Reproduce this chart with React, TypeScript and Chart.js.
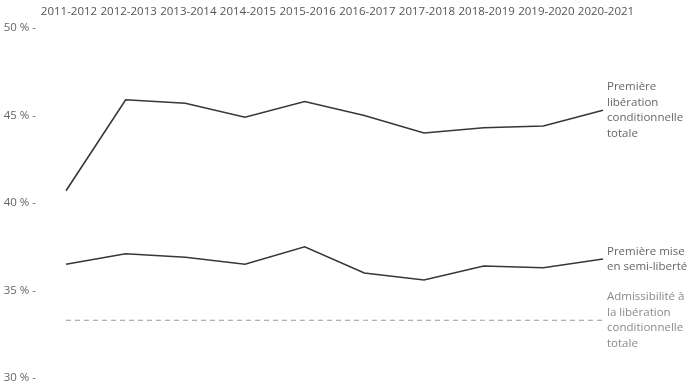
import React, { useEffect, useRef } from "react";
import { Chart, registerables } from "chart.js";

Chart.register(...registerables);

const categories = ["2011-2012", "2012-2013", "2013-2014", "2014-2015", "2015-2016", "2016-2017", "2017-2018", "2018-2019", "2019-2020", "2020-2021"];
const liberationTotale = [40.7, 45.9, 45.7, 44.9, 45.8, 45.0, 44.0, 44.3, 44.4, 45.3];
const semiLiberte = [36.5, 37.1, 36.9, 36.5, 37.5, 36.0, 35.6, 36.4, 36.3, 36.8];
const admissibilite = [33.3, 33.3, 33.3, 33.3, 33.3, 33.3, 33.3, 33.3, 33.3, 33.3];
const yTicks = [30, 35, 40, 45, 50];
const seriesLabels = [
  ["Première", "libération", "conditionnelle", "totale"],
  ["Première mise", "en semi-liberté"],
  ["Admissibilité à", "la libération", "conditionnelle", "totale"],
];

const FONT = "'Open Sans', sans-serif";

const endLabels = {
  id: "endLabels",
  afterDraw(chart: any) {
    const ctx = chart.ctx;
    ctx.save();
    ctx.font = `11.5px ${FONT}`;
    ctx.textAlign = "left";
    ctx.textBaseline = "middle";
    const lh = 15.5;
    chart.data.datasets.forEach((ds: any, i: number) => {
      const meta = chart.getDatasetMeta(i);
      const pt = meta.data[meta.data.length - 1];
      const lines = seriesLabels[i];
      ctx.fillStyle = i === 2 ? "#8a8a8a" : "#666";
      const startY = pt.y - ((lines.length - 1) * lh) / 2;
      lines.forEach((l: string, j: number) => ctx.fillText(l, pt.x + 4, startY + j * lh));
    });
    ctx.restore();
  },
};

export default function App() {
  const ref = useRef<HTMLCanvasElement>(null);
  useEffect(() => {
    document.body.style.margin = "0";
    const chart = new Chart(ref.current!, {
      type: "line",
      data: {
        labels: categories,
        datasets: [
          { data: liberationTotale, borderColor: "#33383d", borderWidth: 1.6, pointRadius: 0, tension: 0 },
          { data: semiLiberte, borderColor: "#33383d", borderWidth: 1.6, pointRadius: 0, tension: 0 },
          { data: admissibilite, borderColor: "#9a9a9a", borderWidth: 1, borderDash: [5, 4], pointRadius: 0, tension: 0 },
        ],
      },
      options: {
        animation: false,
        responsive: false,
        maintainAspectRatio: false,
        layout: { padding: { top: 0, right: 97, bottom: 6, left: 0 } },
        plugins: { legend: { display: false }, tooltip: { enabled: false } },
        scales: {
          x: {
            position: "top",
            offset: false,
            grid: { display: false, drawTicks: false },
            border: { display: false },
            ticks: { color: "#555", font: { family: FONT, size: 11.5 }, padding: 9, labelOffset: 3, maxRotation: 0, autoSkip: false },
            afterFit: (s: any) => { s.height = 28; },
          },
          y: {
            min: 30,
            max: 50,
            grid: { display: false, drawTicks: false },
            border: { display: false },
            afterBuildTicks: (s: any) => { s.ticks = yTicks.map((v) => ({ value: v })); },
            ticks: {
              color: "#666",
              font: { family: FONT, size: 11.5 },
              padding: 30,
              callback: (v: any) => `${v} % -`,
            },
            afterFit: (s: any) => { s.width = 66; s.paddingTop = 0; s.paddingBottom = 0; },
          },
        },
      },
      plugins: [endLabels],
    });
    return () => chart.destroy();
  }, []);
  return (
    <div style={{ width: 700, height: 384 }}>
      <canvas ref={ref} width={700} height={384} style={{ display: "block", width: 700, height: 384 }} />
    </div>
  );
}
